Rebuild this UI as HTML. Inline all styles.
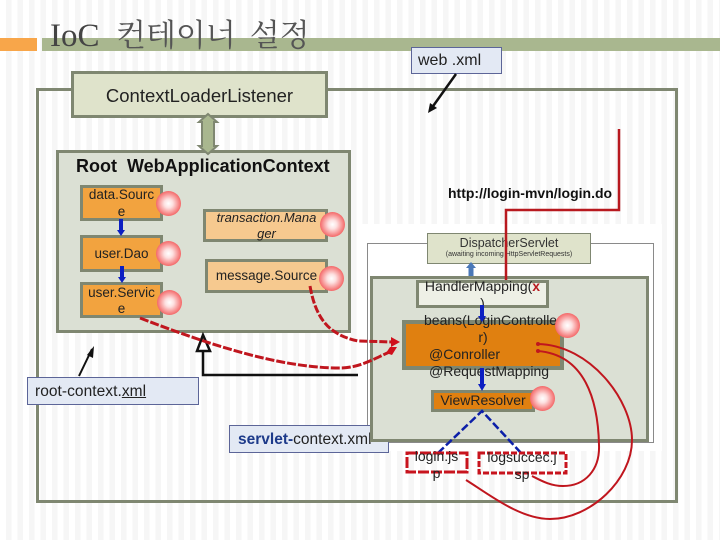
<!DOCTYPE html>
<html><head><meta charset="utf-8">
<style>
html,body{margin:0;padding:0}
body{width:720px;height:540px;position:relative;overflow:hidden;background:#fff;font-family:"Liberation Sans","Noto Sans CJK KR",sans-serif;color:#222}
#bg{position:absolute;left:0;top:0;width:720px;height:540px;background:repeating-linear-gradient(90deg,#fff 0,#fff 6px,#f6f6f6 6px,#f6f6f6 11.5px)}
.b{position:absolute;box-sizing:border-box;text-align:center;font-size:14px;line-height:17px}
.o{border:3px solid #7f8771}
.c{position:absolute;border-radius:50%;width:25px;height:25px;background:radial-gradient(circle at 50% 50%,#fff 0,#fde0e0 25%,#f46a6a 70%,#e8373c 100%)}
.t{position:absolute;white-space:nowrap}
</style></head><body>
<div id="bg"></div>
<div class="b" style="left:0;top:38px;width:37px;height:13px;background:#f8a64a"></div>
<div class="b" style="left:42px;top:38px;width:678px;height:13px;background:#a9b78f"></div>
<div class="t" style="left:50px;top:14px;font:33px/44px 'Liberation Serif',serif;color:#444">IoC</div>
<div class="t" style="left:116px;top:11px;font:31px/44px 'Noto Serif CJK SC','Noto Sans CJK KR',serif;color:#555;word-spacing:6px">컨테이너 설정</div>
<div class="b" style="left:36px;top:88px;width:642px;height:415px;border:3px solid #7f8771"></div>
<div class="b" style="left:411px;top:47px;width:91px;height:27px;background:#e3e9f4;border:1px solid #5c6598;text-align:left;padding:4px 0 0 6px;font-size:16px">web .xml</div>
<div class="b o" style="left:71px;top:71px;width:257px;height:47px;background:#dfe3cb;font-size:18.5px;line-height:44px;white-space:nowrap">ContextLoaderListener</div>
<div class="b o" style="left:56px;top:150px;width:295px;height:183px;background:#dbe0d4"></div>
<div class="t" style="left:76px;top:156px;font-weight:bold;font-size:18px;line-height:20px;color:#111">Root&nbsp; WebApplicationContext</div>
<div class="t" style="left:448px;top:185px;font-weight:bold;font-size:14px;line-height:16px;color:#111">http://login-mvn/login.do</div>
<div class="b" style="left:80px;top:185px;width:83px;height:36px;background:#f2a33f;border:3px solid #7f8771;font-size:13.5px;line-height:17px;padding-top:0;white-space:nowrap"><div style="margin-top:-2px">data.Sourc<br>e</div></div>
<div class="b" style="left:80px;top:235px;width:83px;height:37px;background:#f2a33f;border:3px solid #7f8771;font-size:13.5px;line-height:31px">user.Dao</div>
<div class="b" style="left:80px;top:282px;width:83px;height:36px;background:#f2a33f;border:3px solid #7f8771;font-size:13.5px;line-height:16px;white-space:nowrap">user.Servic<br>e</div>
<div class="b" style="left:203px;top:209px;width:125px;height:33px;background:#f6c98f;border:3px solid #7f8771;font-style:italic;font-size:13px;line-height:16px;white-space:nowrap;padding-left:2px"><div style="margin-top:-2px">transaction.Mana<br>ger</div></div>
<div class="b" style="left:205px;top:259px;width:123px;height:34px;background:#f6c98f;border:3px solid #7f8771;font-size:13.5px;line-height:28px;white-space:nowrap">message.Source</div>
<div class="b" style="left:27px;top:377px;width:172px;height:28px;background:#e3e9f4;border:1px solid #5c6598;text-align:left;padding:5px 0 0 7px;font-size:15.5px;line-height:17px;letter-spacing:.05px;white-space:nowrap">root-context.<u>xml</u></div>
<svg width="720" height="540" style="position:absolute;left:0;top:0">
<rect x="362" y="224" width="300" height="227" fill="#fff"/>
<rect x="367.5" y="243.5" width="286" height="199" fill="none" stroke="#8a8a8a"/>
</svg>
<div class="b" style="left:229px;top:425px;width:160px;height:28px;background:#e3e9f4;border:1px solid #5c6598;text-align:left;padding:5px 0 0 8px;font-size:15.5px;line-height:17px;white-space:nowrap"><b style="color:#1d3a8a">servlet-</b>context.xml</div>
<svg width="720" height="540" style="position:absolute;left:0;top:0">
<rect x="371.5" y="277.5" width="276" height="163" fill="#dbe0d4" stroke="#7f8771" stroke-width="3"/>
<rect x="427.5" y="233.5" width="163" height="30" fill="#dfe3cb" stroke="#7f8771"/>
</svg>
<div class="t" style="left:427px;top:235px;width:164px;text-align:center;font-size:12.5px;line-height:16px;color:#333">DispatcherServlet</div>
<div class="t" style="left:427px;top:250px;width:164px;text-align:center;font-size:7px;line-height:10px;color:#333">(awaiting incoming HttpServletRequests)</div>
<div class="b" style="left:416px;top:280px;width:133px;height:28px;background:#eef0e6;border:3px solid #7f8771"></div>
<div class="b" style="left:402px;top:320px;width:162px;height:50px;background:#e08010;border:4px solid #7f8771"></div>
<div class="b" style="left:431px;top:390px;width:104px;height:22px;background:#e08010;border:3px solid #7f8771"></div>
<div class="t" style="left:416px;top:278px;width:133px;text-align:center;font-size:14px;line-height:17px">HandlerMapping(<b style="color:#b8191f">x</b><br>)</div>
<div class="t" style="left:424px;top:312px;font-size:14px;line-height:17px">beans(LoginControlle</div>
<div class="t" style="left:402px;top:329px;width:162px;text-align:center;font-size:14px;line-height:17px">r)</div>
<div class="t" style="left:429px;top:346px;font-size:14px;line-height:17px">@Conroller<br>@RequestMapping</div>
<div class="t" style="left:431px;top:392px;width:104px;text-align:center;font-size:14px;line-height:17px">ViewResolver</div>
<div class="c" style="left:156px;top:191px"></div>
<div class="c" style="left:156px;top:241px"></div>
<div class="c" style="left:157px;top:290px"></div>
<div class="c" style="left:320px;top:212px"></div>
<div class="c" style="left:319px;top:266px"></div>
<div class="c" style="left:555px;top:313px"></div>
<div class="c" style="left:530px;top:386px"></div>
<svg width="720" height="540" style="position:absolute;left:0;top:0">
<path d="M208 114 L217 122 H214 V146 H217 L208 154 L199 146 H202 V122 H199 Z" fill="#a9b78f" stroke="#7f8771" stroke-width="2"/>
<path d="M456 74 L431 109" stroke="#111" stroke-width="2.5" fill="none"/><path d="M428 113 L430 103 L437 108 Z" fill="#111"/>
<path d="M79 376 L92 349" stroke="#111" stroke-width="2" fill="none"/><path d="M94 346 L93 358 L87 355 Z" fill="#111"/>
<path d="M358 375 H203 V352" stroke="#111" stroke-width="2.5" fill="none"/><path d="M203 335 L210 351 H197 Z" fill="#fff" stroke="#111" stroke-width="2.5"/>
<g stroke="#0c1fc2" stroke-width="4" fill="none"><path d="M121 219 V232"/><path d="M122 266 V279"/><path d="M482 305 V318"/><path d="M482 368 V386"/></g>
<g fill="#0c1fc2"><path d="M117 230 H125 L121 236Z"/><path d="M118 277 H126 L122 283Z"/><path d="M478 316 H486 L482 322Z"/><path d="M478 384 H486 L482 391Z"/></g>
<path d="M471 276 V266" stroke="#4a78b8" stroke-width="5"/><path d="M466 268 L471 262 L476 268 Z" fill="#4a78b8"/>
<path d="M438 453 L482 411 L521 453" fill="none" stroke="#0c1fa8" stroke-width="2.5" stroke-dasharray="8 3"/>
<path d="M619 129 V210 H506 V280" fill="none" stroke="#b8191f" stroke-width="2.5"/>
<rect x="407" y="453" width="60" height="19" fill="none" stroke="#c8141e" stroke-width="3" stroke-dasharray="11 2"/>
<rect x="479" y="453" width="87" height="20" fill="none" stroke="#c8141e" stroke-width="3" stroke-dasharray="6 2"/>
<path d="M310 286 C316 320 330 335 358 341 L393 342" fill="none" stroke="#c0161e" stroke-width="3" stroke-dasharray="8 2"/><path d="M391 337 L400 342 L391 347 Z" fill="#d0101c"/>
<path d="M140 318 C210 345 280 368 340 368 C360 368 375 358 392 351" fill="none" stroke="#c0161e" stroke-width="3" stroke-dasharray="9 2"/><path d="M390 347 L397 347 L392 355 L386 353 Z" fill="#d0101c"/>
<path d="M538 344 C590 345 632 400 632 440 C632 480 590 519 550 519 C520 519 490 495 466 480" fill="none" stroke="#c0161e" stroke-width="2"/>
<path d="M538 351 C585 355 598 400 599 445 C600 470 585 486 563 486 C550 486 540 480 532 476" fill="none" stroke="#c0161e" stroke-width="2"/>
<circle cx="538" cy="344" r="2" fill="#c0161e"/><circle cx="538" cy="351" r="2" fill="#c0161e"/>
</svg>
<div class="t" style="left:406px;top:448px;width:61px;text-align:center;font-size:14px;line-height:17px">login.js<br>p</div>
<div class="t" style="left:478px;top:449px;width:88px;text-align:center;font-size:14px;line-height:17px">logsuccec.j<br>sp</div>
</body></html>
